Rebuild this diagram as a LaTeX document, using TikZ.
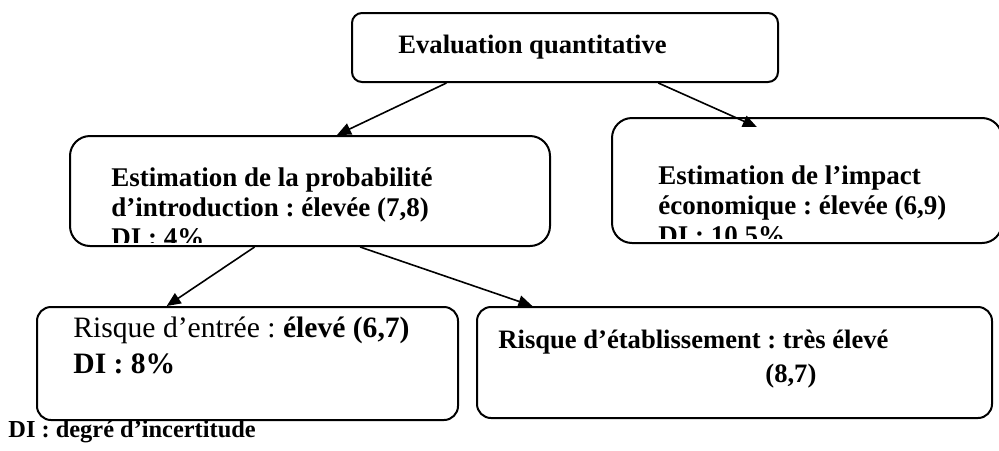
\documentclass[tikz,border=0pt]{standalone}
\usepackage{fontspec}
\setmainfont{Liberation Serif}
\usetikzlibrary{arrows.meta,calc}
\frenchspacing

\begin{document}
\begin{tikzpicture}[x=0.5pt,y=-0.5pt,>={Triangle[length=7pt,width=6pt]},
  box/.style={draw,line width=1pt,rounded corners=#1,inner sep=0pt},
  box/.default=7pt,
  txt/.style={anchor=north west,inner sep=0pt,align=left,font=\fontsize{13.5}{15}\selectfont\bfseries},
  link/.style={->,line width=0.8pt}]
\useasboundingbox (0,0) rectangle (999,450);
\node[box=5pt,minimum width=213pt,minimum height=34.5pt] (eval) at (565,47.5) {};
\node[txt,font=\fontsize{13.3}{15}\selectfont\bfseries] (evalT) at (398,35) {Evaluation quantitative};
\node[box=10pt,minimum width=240pt,minimum height=55pt] (proba) at (310,191) {};
\node[box=10pt,minimum width=195pt,minimum height=62.5pt] (impact) at (807,180.5) {};
\begin{scope}
\clip (proba.north west) rectangle ($(proba.south east)+(0,-5)$);
\node[txt] (probaT) at (111,167) {Estimation de la probabilité\\d’introduction : élevée (7,8)\\DI : 4\%};
\end{scope}
\begin{scope}
\clip (impact.north west) rectangle ($(impact.south east)+(0,-6)$);
\node[txt] (impactT) at (658,165) {Estimation de l’impact\\économique : élevée (6,9)\\DI : 10,5\%};
\end{scope}
\node[box,minimum width=210.5pt,minimum height=56.5pt] (entree) at (247.5,363.5) {};
\node[txt,font=\fontsize{14.8}{18}\selectfont] (entreeT) at (73,317) {Risque d’entrée : \textbf{élevé (6,7)}\\\textbf{DI : 8\%}};
\node[box,minimum width=257.5pt,minimum height=55.5pt] (etab) at (734.5,362.5) {};
\node[txt,font=\fontsize{13.3}{17}\selectfont\bfseries] (etabT) at (498,330) {Risque d’établissement : très élevé\\\hspace*{133.5pt}(8,7)};
\node[anchor=base west,inner sep=0pt,font=\fontsize{12.2}{14}\selectfont\bfseries] (note) at (8,437) {DI : degré d’incertitude};
\draw[link] ($(eval.south west)!0.223!(eval.south east)$) -- ($(proba.north west)!0.556!(proba.north east)$);
\draw[link] ($(eval.south west)!0.718!(eval.south east)$) -- ($(impact.north west)!0.372!(impact.north east)+(0,10)$);
\draw[link] ($(proba.south west)!0.385!(proba.south east)$) -- ($(entree.north west)!0.309!(entree.north east)$);
\draw[link] ($(proba.south west)!0.604!(proba.south east)$) -- ($(etab.north west)!0.109!(etab.north east)$);
\end{tikzpicture}
\end{document}
